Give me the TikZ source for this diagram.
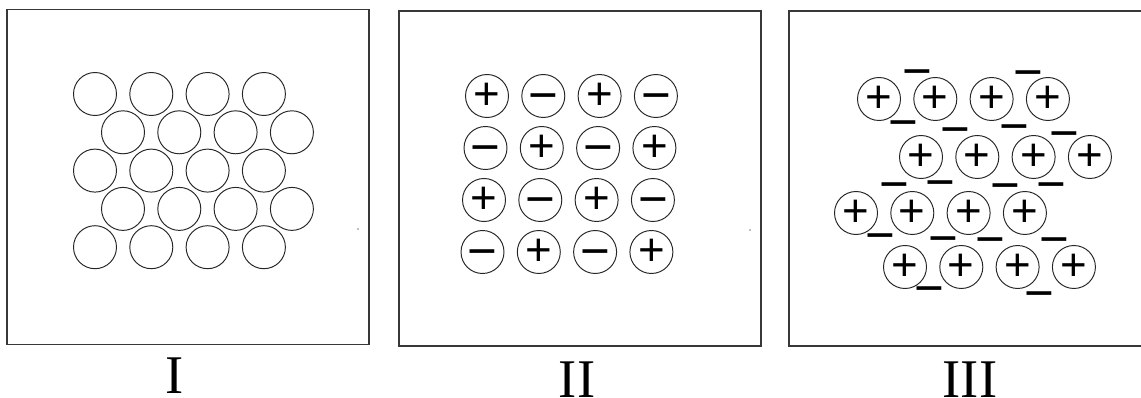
\documentclass[tikz,border=0pt]{standalone}
\usepackage{fontspec}
\setmainfont{Liberation Serif}
\newfontfamily\signfont{Liberation Sans}
\newcommand\ionminus{{\fontsize{29}{29}\selectfont\raisebox{-0.33em}[0.04em][0.04em]{−}}}

\begin{document}
\begin{tikzpicture}[x=0.02cm, y=-0.02cm]
  \def\dx{56.3}
  \colorlet{edge}{black!78}
  \tikzset{
    panel/.style={draw=edge, line width=1.1pt},
    atom/.style={circle, draw=black!85, line width=0.55pt, minimum size=0.86cm, inner sep=0pt},
    charge/.style={font=\signfont\fontsize{26}{26}\selectfont, inner sep=0pt},
    numeral/.style={font=\fontsize{31}{31}\selectfont, anchor=base, inner sep=0pt, text depth=0pt},
  }
  \useasboundingbox (0,0) rectangle (1141,398);

  %--- I: neutral atoms, close packed ---
  \draw[panel] (7,9.5) rectangle (369,344.5);
  \foreach \r in {0,...,4} {
    \pgfmathsetmacro{\shift}{mod(\r,2)*28}
    \foreach \c in {0,...,3} {
      \node[atom] (a\r\c) at ({95+\shift+\c*\dx},{94+\r*38.3}) {};
    }
  }
  \fill[gray] (358,229) circle[radius=0.5pt];
  \node[numeral] (tI) at (175,393) {I};

  %--- II: alternating ions ---
  \draw[panel] (399,11) rectangle (761,346);
  \foreach \r in {0,...,3} {
    \foreach \c in {0,...,3} {
      \pgfmathtruncatemacro{\ispos}{mod(\r+\c,2)==0 ? 1 : 0}
      \ifnum\ispos=1 \def\q{+}\else \def\q{\ionminus}\fi
      \node[atom, charge] (b\r\c) at ({487-1.5*\r+\c*\dx},{96+\r*52}) {\q};
    }
  }
  \fill[gray] (750,230) circle[radius=0.5pt];
  \node[numeral] (tII) at (577,397) {II};

  %--- III: positive ions and free electrons ---
  \draw[panel] (1142,11) -- (789,11) -- (789,346) -- (1142,346);
  \foreach \r/\x/\y in {0/879/99, 1/921/157, 2/856/213, 3/905/267} {
    \foreach \c in {0,...,3} {
      \node[atom, charge] (c\r\c) at ({\x+\c*\dx},\y) {+};
    }
  }
  \foreach \x/\y [count=\i] in {917/72, 1028/73, 903/123, 955/130, 1014/127, 1064/134,
      894/185, 940/183, 1005/186, 1051/185, 880/236, 943/239, 990/240, 1054/240,
      929/289, 1039/294} {
    \node[charge] (e\i) at (\x,\y) {\ionminus};
  }
  \node[numeral] (tIII) at (970,397) {III};

\end{tikzpicture}
\end{document}
